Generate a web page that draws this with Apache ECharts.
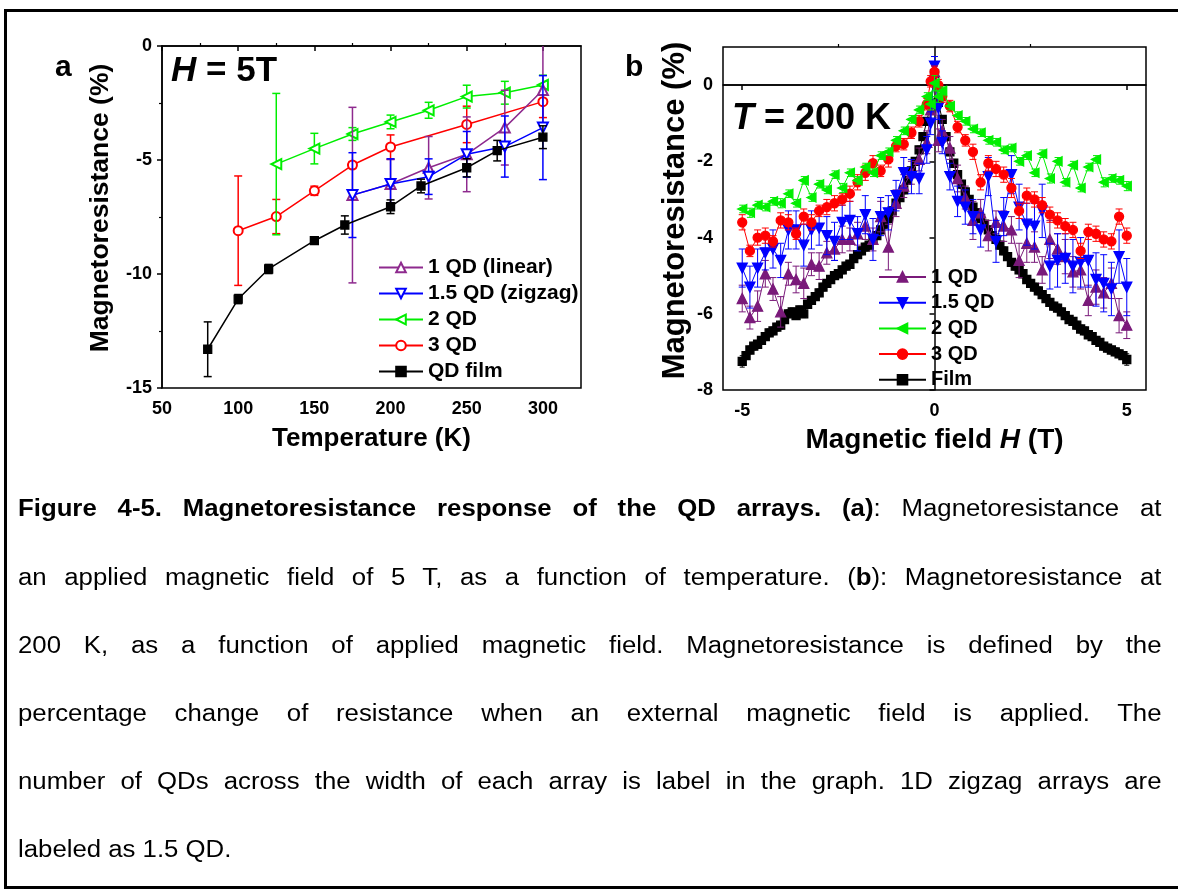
<!DOCTYPE html>
<html><head><meta charset="utf-8">
<script src="https://cdn.jsdelivr.net/npm/echarts@6/dist/echarts.min.js"></script>
<style>
html,body{margin:0;padding:0;background:#fff;}
#wrap{position:relative;width:1178px;height:893px;overflow:hidden;background:#fff;}
#chart{position:absolute;left:0;top:0;width:1178px;height:893px;}
#frame{position:absolute;left:4px;top:9px;width:1184px;height:880px;border:3px solid #000;box-sizing:border-box;pointer-events:none;}
.cap{position:absolute;left:18px;width:1021px;font-family:'Liberation Sans',Arial,sans-serif;font-size:23px;line-height:30px;height:30px;text-align:justify;text-align-last:justify;color:#000;transform:scaleX(1.12);transform-origin:0 0;}
.cap.last{text-align:left;text-align-last:left;}
</style></head>
<body>
<div id="wrap">
<div id="chart"></div>
<div id="frame"></div>
<div class="cap" style="top:493px"><b>Figure 4-5. Magnetoresistance response of the QD arrays. (a)</b>: Magnetoresistance at</div>
<div class="cap" style="top:562px">an applied magnetic field of 5 T, as a function of temperature. (<b>b</b>): Magnetoresistance at</div>
<div class="cap" style="top:630px">200 K, as a function of applied magnetic field. Magnetoresistance is defined by the</div>
<div class="cap" style="top:698px">percentage change of resistance when an external magnetic field is applied. The</div>
<div class="cap" style="top:766px">number of QDs across the width of each array is label in the graph. 1D zigzag arrays are</div>
<div class="cap last" style="top:834px">labeled as 1.5 QD.</div>
</div>
<script>
// ---------- Panel (a): MR at 5 T vs temperature ----------
const aXTicks = [50, 100, 150, 200, 250, 300];
const aXMinor = [75, 125, 175, 225, 275];
const aYTicks = [-15, -10, -5, 0];

const aLinearT   = [175, 200, 225, 250, 275, 300];
const aLinearMR  = [-6.54, -6.05, -5.34, -4.75, -3.58, -1.93];
const aLinearErr = [3.85, 1.07, 1.37, 1.64, 1.64, 2.0];

const aZigzagT   = [175, 200, 225, 250, 275, 300];
const aZigzagMR  = [-6.54, -6.05, -5.73, -4.75, -4.41, -3.58];
const aZigzagErr = [1.86, 1.1, 0.78, 1.0, 1.34, 2.28];

const a2QDT   = [125, 150, 175, 200, 225, 250, 275, 300];
const a2QDMR  = [-5.18, -4.5, -3.86, -3.33, -2.82, -2.22, -2.05, -1.71];
const a2QDErr = [3.1, 0.67, 0.28, 0.3, 0.35, 0.5, 0.5, 0.43];

const a3QDT   = [100, 125, 150, 175, 200, 250, 300];
const a3QDMR  = [-8.1, -7.48, -6.35, -5.22, -4.43, -3.44, -2.44];
const a3QDErr = [2.4, 0.75, 0.2, 0.15, 0.53, 0.8, 0.7];

const aFilmT   = [80, 100, 120, 150, 170, 200, 220, 250, 270, 300];
const aFilmMR  = [-13.3, -11.1, -9.78, -8.54, -7.85, -7.05, -6.14, -5.34, -4.59, -4.0];
const aFilmErr = [1.2, 0.2, 0.2, 0.1, 0.4, 0.3, 0.3, 0.4, 0.45, 0.5];

// ---------- Panel (b): MR at 200 K vs field ----------
const bXTicks = [-5, 0, 5];
const bXMinor = [-2.5, 2.5];
const bYTicks = [-8, -6, -4, -2, 0];

const bField = [-5.0, -4.8, -4.6, -4.4, -4.2, -4.0, -3.8, -3.6, -3.4, -3.2,
  -3.0, -2.8, -2.6, -2.4, -2.2, -2.0, -1.8, -1.6, -1.4, -1.2,
  -1.0, -0.8, -0.6, -0.4, -0.2, -0.1, 0, 0.1, 0.2, 0.4,
  0.6, 0.8, 1.0, 1.2, 1.4, 1.6, 1.8, 2.0, 2.2, 2.4,
  2.6, 2.8, 3.0, 3.2, 3.4, 3.6, 3.8, 4.0, 4.2, 4.4,
  4.6, 4.8, 5.0];

const b1QD = [-5.6, -6.1, -5.8, -4.95, -5.35, -5.95, -4.95, -5.1, -5.2, -4.7,
  -4.75, -4.4, -4.3, -4.05, -4.05, -3.9, -3.7, -4.05, -3.45, -4.25,
  -3.1, -2.65, -2.3, -1.95, -1.5, -0.65, 0.35, -1.45, -1.2, -1.65,
  -2.45, -2.95, -3.55, -3.35, -3.95, -3.6, -3.7, -3.8, -4.6, -4.15,
  -4.25, -4.85, -4.05, -4.3, -4.5, -4.9, -4.85, -5.65, -5.3, -5.45,
  -5.2, -6.05, -6.3];
const b1QDErr = [0.35, 0.3, 0.4, 0.35, 0.3, 0.4, 0.3, 0.35, 0.4, 0.3,
  0.35, 0.3, 0.3, 0.35, 0.3, 0.3, 0.35, 0.3, 0.4, 0.6,
  0.35, 0.3, 0.3, 0.3, 0.3, 0.3, 0.4, 0.3, 0.3, 0.3,
  0.35, 0.3, 0.5, 0.35, 0.4, 0.3, 0.4, 0.35, 0.45, 0.5,
  0.4, 0.35, 0.5, 0.4, 0.45, 0.4, 0.5, 0.4, 0.45, 0.4,
  0.4, 0.45, 0.35];

const b15QD = [-4.8, -5.3, -4.8, -4.4, -4.3, -4.6, -3.8, -3.8, -4.2, -3.8,
  -3.75, -3.95, -4.1, -3.6, -3.55, -3.9, -3.4, -4.05, -3.45, -3.35,
  -2.9, -2.3, -2.4, -2.45, -1.7, -1.0, 0.5, -0.6, -1.5, -2.4,
  -3.05, -3.2, -3.45, -3.8, -2.4, -4.1, -3.45, -2.35, -3.2, -3.65,
  -3.7, -3.3, -4.75, -4.6, -4.55, -4.75, -4.65, -4.6, -5.1, -5.2,
  -5.35, -4.5, -5.3];
const b15QDErr = [0.5, 0.55, 0.5, 0.45, 0.5, 0.45, 0.5, 0.5, 0.55, 0.5,
  0.45, 0.5, 0.5, 0.45, 0.5, 0.45, 0.5, 0.55, 0.5, 0.45,
  0.4, 0.4, 0.45, 0.4, 0.35, 0.3, 0.25, 0.3, 0.3, 0.35,
  0.4, 0.45, 0.45, 0.45, 0.5, 0.55, 0.5, 0.5, 0.6, 0.55,
  0.6, 0.7, 0.6, 0.7, 0.65, 0.7, 0.65, 0.7, 0.7, 0.75,
  0.7, 0.7, 0.75];

const b2QD = [-3.25, -3.35, -3.15, -3.2, -3.05, -3.1, -2.85, -3.1, -2.5, -2.95,
  -2.6, -2.75, -2.35, -2.7, -2.3, -2.5, -2.15, -2.3, -1.85, -1.75,
  -1.45, -1.2, -0.9, -0.65, -0.3, -0.5, 0.05, -0.3, -0.15, -0.55,
  -0.8, -0.95, -1.15, -1.25, -1.45, -1.5, -1.7, -1.65, -2.0, -1.85,
  -2.3, -1.8, -2.45, -2.0, -2.55, -2.1, -2.7, -2.15, -1.95, -2.55,
  -2.45, -2.5, -2.65];
const b2QDErr = [0.1, 0.12, 0.1, 0.1, 0.1, 0.12, 0.1, 0.1, 0.1, 0.1,
  0.1, 0.1, 0.1, 0.12, 0.1, 0.1, 0.1, 0.1, 0.1, 0.1,
  0.1, 0.1, 0.1, 0.1, 0.1, 0.15, 0.2, 0.15, 0.1, 0.1,
  0.1, 0.1, 0.1, 0.1, 0.1, 0.1, 0.1, 0.1, 0.1, 0.1,
  0.1, 0.1, 0.12, 0.1, 0.1, 0.1, 0.1, 0.1, 0.1, 0.12,
  0.1, 0.1, 0.12];

const b3QD = [-3.6, -4.35, -4.0, -3.95, -4.1, -3.55, -3.6, -3.9, -3.45, -3.6,
  -3.3, -3.2, -3.1, -3.0, -2.85, -2.55, -2.3, -2.05, -2.25, -1.95,
  -1.6, -1.55, -1.25, -0.95, -0.5, 0.1, 0.35, 0.0, -0.3, -0.55,
  -1.1, -1.45, -1.75, -2.55, -2.05, -2.2, -2.35, -2.7, -3.3, -2.9,
  -3.0, -3.15, -3.4, -3.55, -3.7, -3.8, -4.35, -3.85, -3.9, -4.05,
  -4.1, -3.45, -3.95];
const b3QDErr = [0.2, 0.15, 0.2, 0.2, 0.15, 0.2, 0.2, 0.15, 0.2, 0.2,
  0.15, 0.2, 0.2, 0.15, 0.2, 0.2, 0.2, 0.2, 0.15, 0.2,
  0.15, 0.15, 0.15, 0.15, 0.15, 0.15, 0.15, 0.15, 0.15, 0.15,
  0.15, 0.15, 0.2, 0.2, 0.2, 0.2, 0.2, 0.25, 0.2, 0.2,
  0.2, 0.2, 0.2, 0.2, 0.2, 0.2, 0.2, 0.2, 0.2, 0.2,
  0.2, 0.2, 0.2];

const bFilmField = [-5.0, -4.9, -4.8, -4.7, -4.6, -4.5, -4.4, -4.3, -4.2, -4.1,
  -4.0, -3.9, -3.8, -3.7, -3.6, -3.5, -3.4, -3.3, -3.2, -3.1,
  -3.0, -2.9, -2.8, -2.7, -2.6, -2.5, -2.4, -2.3, -2.2, -2.1,
  -2.0, -1.9, -1.8, -1.7, -1.6, -1.5, -1.4, -1.3, -1.2, -1.1,
  -1.0, -0.9, -0.8, -0.7, -0.6, -0.5, -0.4, -0.3, -0.2, -0.1,
  0,
  0.1, 0.2, 0.3, 0.4, 0.5, 0.6, 0.7, 0.8, 0.9, 1.0,
  1.1, 1.2, 1.3, 1.4, 1.5, 1.6, 1.7, 1.8, 1.9, 2.0,
  2.1, 2.2, 2.3, 2.4, 2.5, 2.6, 2.7, 2.8, 2.9, 3.0,
  3.1, 3.2, 3.3, 3.4, 3.5, 3.6, 3.7, 3.8, 3.9, 4.0,
  4.1, 4.2, 4.3, 4.4, 4.5, 4.6, 4.7, 4.8, 4.9, 5.0];
const bFilm = [-7.25, -7.1, -6.95, -6.85, -6.8, -6.7, -6.6, -6.5, -6.45, -6.35,
  -6.3, -6.15, -6.0, -5.95, -6.05, -5.9, -6.0, -5.75, -5.65, -5.55,
  -5.45, -5.3, -5.2, -5.1, -5.0, -4.95, -4.85, -4.75, -4.7, -4.55,
  -4.45, -4.35, -4.25, -4.2, -4.05, -3.95, -3.8, -3.65, -3.5, -3.3,
  -3.1, -2.95, -2.75, -2.5, -2.25, -2.0, -1.7, -1.35, -0.95, -0.5,
  0.3,
  -0.45, -0.9, -1.35, -1.75, -2.05, -2.35, -2.6, -2.8, -3.0, -3.2,
  -3.35, -3.5, -3.65, -3.8, -3.95, -4.05, -4.2, -4.35, -4.5, -4.65,
  -4.75, -4.85, -4.95, -5.1, -5.2, -5.3, -5.4, -5.5, -5.6, -5.7,
  -5.8, -5.85, -5.95, -6.05, -6.15, -6.2, -6.3, -6.4, -6.45, -6.55,
  -6.6, -6.7, -6.75, -6.85, -6.9, -6.95, -7.0, -7.05, -7.1, -7.2];
const bFilmErr = [0.15, 0.1, 0.1, 0.1, 0.1, 0.1, 0.1, 0.1, 0.1, 0.1,
  0.1, 0.1, 0.1, 0.1, 0.1, 0.1, 0.1, 0.1, 0.1, 0.1,
  0.1, 0.1, 0.1, 0.1, 0.1, 0.1, 0.1, 0.1, 0.1, 0.1,
  0.1, 0.1, 0.1, 0.1, 0.1, 0.1, 0.1, 0.1, 0.1, 0.1,
  0.1, 0.1, 0.1, 0.1, 0.1, 0.1, 0.1, 0.1, 0.1, 0.1,
  0.15,
  0.1, 0.1, 0.1, 0.1, 0.1, 0.1, 0.1, 0.1, 0.1, 0.1,
  0.1, 0.1, 0.1, 0.1, 0.1, 0.1, 0.1, 0.1, 0.1, 0.1,
  0.1, 0.1, 0.1, 0.1, 0.1, 0.1, 0.1, 0.1, 0.1, 0.1,
  0.1, 0.1, 0.1, 0.1, 0.1, 0.1, 0.1, 0.1, 0.1, 0.1,
  0.1, 0.1, 0.1, 0.1, 0.1, 0.1, 0.1, 0.1, 0.1, 0.15];

// ---------- rendering ----------
const FONT = "'Liberation Sans', Arial, sans-serif";
const C = {purpleA: '#8e2a8e', purpleB: '#7a1a7a', blue: '#0000ff', green: '#00ee00', red: '#ff0000', black: '#000000'};

function pairs(xs, ys) { return xs.map((x, i) => [x, ys[i]]); }

function errSeries(id, xs, ys, es, color, xi, yi, cap, lw, z) {
  return {
    type: 'custom', id: id, name: id, xAxisIndex: xi, yAxisIndex: yi, clip: true, z: z, silent: true,
    data: xs.map((x, i) => [x, ys[i], es[i]]),
    renderItem: function (params, api) {
      const x = api.value(0), y = api.value(1), e = api.value(2);
      const t = api.coord([x, y + e]), b = api.coord([x, y - e]);
      const h = cap / 2;
      const st = {stroke: color, lineWidth: lw, fill: null};
      return {type: 'group', children: [
        {type: 'line', shape: {x1: t[0], y1: t[1], x2: b[0], y2: b[1]}, style: st},
        {type: 'line', shape: {x1: t[0] - h, y1: t[1], x2: t[0] + h, y2: t[1]}, style: st},
        {type: 'line', shape: {x1: b[0] - h, y1: b[1], x2: b[0] + h, y2: b[1]}, style: st}
      ]};
    }
  };
}

function lineSeries(name, xs, ys, color, symbol, size, rot, xi, yi, lw, z) {
  return {
    type: 'line', name: name, xAxisIndex: xi, yAxisIndex: yi, z: z,
    data: pairs(xs, ys), symbol: symbol, symbolSize: size, symbolRotate: rot,
    showAllSymbol: true, animation: false, silent: true,
    lineStyle: {color: color, width: lw},
    itemStyle: {color: color, borderColor: color, borderWidth: 1.3}
  };
}

const labelStyle = {color: '#000', fontFamily: FONT, fontWeight: 'bold', fontSize: 18};
const axisLine = {show: true, lineStyle: {color: '#000', width: 1.5}};

const option = {
  animation: false,
  backgroundColor: 'transparent',
  textStyle: {fontFamily: FONT},
  grid: [
    {left: 162, top: 46, width: 419, height: 342, show: true, borderColor: '#000', borderWidth: 1.5, backgroundColor: 'transparent'},
    {left: 723, top: 47, width: 423, height: 343, show: true, borderColor: '#000', borderWidth: 1.5, backgroundColor: 'transparent'}
  ],
  xAxis: [
    {gridIndex: 0, type: 'value', min: 50, max: 325, axisLine: axisLine,
     axisTick: {show: true, inside: false, length: 5, lineStyle: {color: '#000', width: 1.5}, customValues: aXTicks},
     axisLabel: Object.assign({margin: 12, customValues: aXTicks}, labelStyle),
     splitLine: {show: false},
     name: 'Temperature (K)', nameLocation: 'middle', nameGap: 38,
     nameTextStyle: {color: '#000', fontFamily: FONT, fontWeight: 'bold', fontSize: 26}},
    {gridIndex: 0, type: 'value', min: 50, max: 325, axisLine: {show: false},
     axisTick: {show: true, length: 3, lineStyle: {color: '#000', width: 1.2}, customValues: aXMinor},
     axisLabel: {show: false}, splitLine: {show: false}},
    {gridIndex: 1, type: 'value', min: -5.5, max: 5.5, axisLine: axisLine,
     axisTick: {show: true, length: 5, lineStyle: {color: '#000', width: 1.5}, customValues: bXTicks},
     axisLabel: Object.assign({margin: 12, customValues: bXTicks}, labelStyle),
     splitLine: {show: false},
     name: 'Magnetic field {i|H} (T)', nameLocation: 'middle', nameGap: 36,
     nameTextStyle: {color: '#000', fontFamily: FONT, fontWeight: 'bold', fontSize: 28,
       rich: {i: {fontStyle: 'italic', fontWeight: 'bold', fontSize: 28, fontFamily: FONT, color: '#000'}}}},
    {gridIndex: 1, type: 'value', min: -5.5, max: 5.5, axisLine: {show: false},
     axisTick: {show: true, length: 3, lineStyle: {color: '#000', width: 1.2}, customValues: bXMinor},
     axisLabel: {show: false}, splitLine: {show: false}}
  ],
  yAxis: [
    {gridIndex: 0, type: 'value', min: -15, max: 0, interval: 5, axisLine: axisLine,
     axisTick: {show: true, length: 5, lineStyle: {color: '#000', width: 1.5}},
     minorTick: {show: true, splitNumber: 2, length: 3, lineStyle: {color: '#000', width: 1.2}},
     axisLabel: Object.assign({margin: 10, customValues: aYTicks}, labelStyle),
     splitLine: {show: false},
     name: 'Magnetoresistance (%)', nameLocation: 'middle', nameGap: 48,
     nameTextStyle: {color: '#000', fontFamily: FONT, fontWeight: 'bold', fontSize: 26.5, padding: [0, 0, 0, 18]}},
    {gridIndex: 1, type: 'value', min: -8, max: 1, axisLine: axisLine,
     axisTick: {show: true, length: 5, lineStyle: {color: '#000', width: 1.5}, customValues: bYTicks},
     axisLabel: Object.assign({margin: 10, customValues: bYTicks}, labelStyle),
     splitLine: {show: false},
     name: 'Magnetoresistance (%)', nameLocation: 'middle', nameGap: 32,
     nameTextStyle: {color: '#000', fontFamily: FONT, fontWeight: 'bold', fontSize: 31, padding: [0, 0, 0, 16]}}
  ],
  legend: [
    {data: ['1 QD (linear)', '1.5 QD (zigzag)', '2 QD', '3 QD', 'QD film'],
     orient: 'vertical', left: 373, top: 252, itemWidth: 44, itemHeight: 12, itemGap: 5,
     selectedMode: false, textStyle: {color: '#000', fontFamily: FONT, fontWeight: 'bold', fontSize: 21}},
    {data: ['b:1 QD', 'b:1.5 QD', 'b:2 QD', 'b:3 QD', 'b:Film'],
     formatter: function (n) { return n.replace('b:', ''); },
     orient: 'vertical', left: 873, top: 262, itemWidth: 47, itemHeight: 12, itemGap: 5.7,
     selectedMode: false, textStyle: {color: '#000', fontFamily: FONT, fontWeight: 'bold', fontSize: 20}}
  ],
  graphic: [
    {type: 'text', left: 55, top: 53, style: {text: 'a', fontFamily: FONT, fontWeight: 'bold', fontSize: 30, fill: '#000'}},
    {type: 'text', left: 625, top: 53, style: {text: 'b', fontFamily: FONT, fontWeight: 'bold', fontSize: 30, fill: '#000'}},
    {type: 'text', x: 171, y: 71, style: {text: '{i|H} = 5T', fontFamily: FONT, fontWeight: 'bold', fontSize: 35, fill: '#000',
      verticalAlign: 'middle', rich: {i: {fontStyle: 'italic', fontWeight: 'bold', fontSize: 35, fontFamily: FONT, fill: '#000'}}}},
    {type: 'text', x: 732, y: 119, style: {text: '{i|T} = 200 K', fontFamily: FONT, fontWeight: 'bold', fontSize: 36, fill: '#000',
      verticalAlign: 'middle', rich: {i: {fontStyle: 'italic', fontWeight: 'bold', fontSize: 36, fontFamily: FONT, fill: '#000'}}}}
  ],
  series: [
    // panel a
    lineSeries('1 QD (linear)', aLinearT, aLinearMR, C.purpleA, 'emptyTriangle', 10, 0, 0, 0, 1.5, 5),
    lineSeries('1.5 QD (zigzag)', aZigzagT, aZigzagMR, C.blue, 'emptyTriangle', 10, 180, 0, 0, 1.5, 6),
    lineSeries('2 QD', a2QDT, a2QDMR, C.green, 'emptyTriangle', 10, 90, 0, 0, 1.5, 4),
    lineSeries('3 QD', a3QDT, a3QDMR, C.red, 'emptyCircle', 9, 0, 0, 0, 1.5, 3),
    lineSeries('QD film', aFilmT, aFilmMR, C.black, 'rect', 8, 0, 0, 0, 1.5, 7),
    errSeries('ea1', aLinearT, aLinearMR, aLinearErr, C.purpleA, 0, 0, 8, 1.5, 5),
    errSeries('ea15', aZigzagT, aZigzagMR, aZigzagErr, C.blue, 0, 0, 8, 1.5, 6),
    errSeries('ea2', a2QDT, a2QDMR, a2QDErr, C.green, 0, 0, 8, 1.5, 4),
    errSeries('ea3', a3QDT, a3QDMR, a3QDErr, C.red, 0, 0, 8, 1.5, 3),
    errSeries('eaf', aFilmT, aFilmMR, aFilmErr, C.black, 0, 0, 8, 1.5, 7),
    // panel b
    lineSeries('b:1 QD', bField, b1QD, C.purpleB, 'triangle', 10, 0, 2, 1, 1, 3),
    lineSeries('b:1.5 QD', bField, b15QD, C.blue, 'triangle', 10, 180, 2, 1, 1, 4),
    lineSeries('b:2 QD', bField, b2QD, C.green, 'triangle', 9, 90, 2, 1, 1, 6),
    lineSeries('b:3 QD', bField, b3QD, C.red, 'circle', 9, 0, 2, 1, 1, 5),
    Object.assign(lineSeries('b:Film', bFilmField, bFilm, C.black, 'rect', 8, 0, 2, 1, 1, 2), {
      markLine: {silent: true, symbol: ['none', 'none'], label: {show: false}, animation: false,
        lineStyle: {color: '#000', width: 1.5, type: 'solid'}, data: [{yAxis: 0}]}
    }),
    errSeries('eb1', bField, b1QD, b1QDErr, C.purpleB, 2, 1, 7, 1, 3),
    errSeries('eb15', bField, b15QD, b15QDErr, C.blue, 2, 1, 7, 1, 4),
    errSeries('eb2', bField, b2QD, b2QDErr, C.green, 2, 1, 6, 1, 6),
    errSeries('eb3', bField, b3QD, b3QDErr, C.red, 2, 1, 7, 1, 5),
    errSeries('ebf', bFilmField, bFilm, bFilmErr, C.black, 2, 1, 5, 1, 2)
  ]
};

const chart = echarts.init(document.getElementById('chart'), null, {renderer: 'canvas'});
chart.setOption(option);
</script>
</body></html>
